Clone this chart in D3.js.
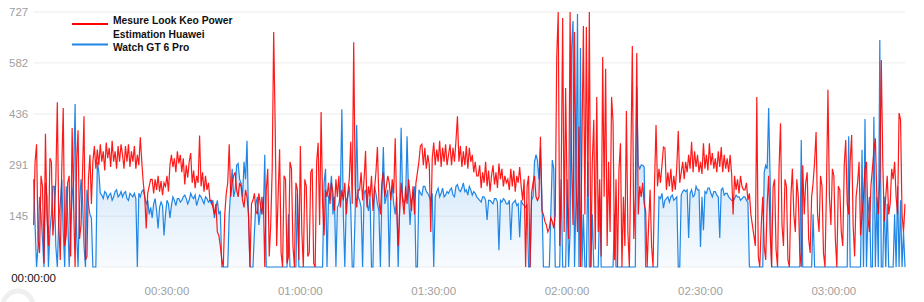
<!DOCTYPE html>
<html>
<head>
<meta charset="utf-8">
<script src="https://cdn.jsdelivr.net/npm/d3@7"></script>
<style>
    html, body { margin: 0; padding: 0; background: #fff; }
    svg { display: block; font-family: "Liberation Sans", Arial, sans-serif; }
</style>
</head>
<body>
<svg class="svg-canvas" width="924" height="302"></svg>
<script>
//Seconds between two samples
var sampleStep = 20;

//Measured power (Look Keo), one value per sample
var redPower = [
    120, 300, 350, 80, 40, 260, 230, 10, 380, 150, 60, 310, 300, 90, 150, 250, 470, 120, 20, 280,
    453, 60, 90, 240, 260, 30, 396, 180, 0, 300, 390, 80, 120, 270, 430, 20, 30, 250, 320, 180,
    300, 345, 280, 335, 290, 350, 300, 330, 275, 355, 310, 340, 285, 360, 300, 330, 280, 345, 300, 350,
    320, 280, 345, 300, 350, 285, 330, 300, 345, 280, 320, 290, 370, 300, 240, 200, 110, 210, 230, 250,
    250, 210, 250, 220, 260, 215, 245, 205, 240, 230, 260, 215, 290, 320, 285, 310, 270, 330, 295, 320,
    270, 310, 235, 290, 255, 300, 325, 240, 275, 225, 260, 240, 375, 230, 270, 215, 260, 220, 240, 190,
    190, 170, 150, 180, 100, 90, 60, 20, 0, 150, 210, 240, 350, 200, 240, 260, 270, 220, 200, 240,
    230, 190, 170, 220, 200, 150, 0, 180, 190, 210, 160, 150, 210, 180, 150, 200, 0, 220, 280, 30,
    120, 280, 670, 405, 60, 200, 336, 40, 0, 260, 250, 10, 30, 300, 280, 60, 0, 240, 220, 20,
    345, 100, 0, 250, 230, 30, 40, 270, 280, 10, 0, 300, 354, 120, 442, 180, 90, 220, 200, 240,
    180, 240, 210, 160, 250, 200, 260, 170, 220, 190, 240, 150, 210, 250, 357, 180, 641, 230, 170, 220,
    220, 270, 190, 250, 331, 170, 230, 200, 260, 160, 220, 270, 342, 190, 150, 240, 270, 200, 230, 260,
    240, 190, 250, 210, 367, 170, 60, 160, 240, 190, 150, 230, 180, 250, 210, 160, 230, 150, 240, 270,
    300, 345, 350, 290, 340, 280, 320, 290, 100, 310, 355, 290, 335, 300, 360, 285, 340, 300, 350, 290,
    320, 350, 290, 340, 300, 360, 430, 300, 345, 285, 330, 290, 345, 280, 340, 300, 320, 270, 300, 260,
    260, 290, 225, 270, 240, 300, 230, 275, 215, 260, 290, 235, 270, 225, 295, 250, 280, 230, 260, 240,
    250, 220, 280, 230, 275, 215, 260, 240, 285, 230, 190, 250, 0, 230, 260, 0, 210, 240, 260, 200,
    190, 200, 371, 160, 150, 130, 120, 100, 110, 140, 130, 110, 150, 599, 727, 60, 250, 710, 100, 510,
    200, 80, 727, 300, 120, 670, 250, 100, 400, 0, 350, 687, 150, 684, 200, 727, 0, 300, 420, 50,
    485, 100, 250, 30, 599, 200, 565, 60, 300, 100, 485, 414, 20, 250, 0, 280, 353, 0, 200, 60,
    445, 100, 0, 300, 630, 80, 200, 610, 150, 230, 200, 240, 180, 160, 0, 120, 220, 60, 0, 240,
    405, 230, 280, 240, 290, 342, 339, 220, 270, 230, 280, 215, 260, 220, 285, 388, 240, 270, 300, 250,
    300, 270, 320, 280, 357, 270, 330, 285, 320, 270, 300, 265, 353, 280, 320, 275, 353, 290, 325, 280,
    310, 270, 330, 285, 342, 270, 320, 280, 310, 270, 320, 265, 150, 260, 220, 250, 210, 260, 230, 220,
    220, 240, 190, 210, 150, 120, 90, 60, 485, 30, 0, 120, 200, 60, 20, 180, 260, 100, 0, 230,
    250, 50, 0, 280, 410, 120, 60, 250, 230, 20, 0, 200, 280, 150, 100, 250, 200, 40, 0, 290,
    150, 240, 270, 80, 40, 200, 240, 300, 385, 150, 100, 260, 230, 40, 0, 220, 505, 200, 120, 280,
    260, 80, 0, 230, 220, 100, 60, 290, 362, 180, 150, 300, 376, 120, 30, 200, 240, 300, 90, 150,
    200, 280, 300, 140, 100, 230, 280, 330, 367, 200, 150, 250, 590, 300, 130, 200, 260, 150, 180, 280,
    250, 300, 200, 150, 439, 420, 150, 100, 180
];

//Estimated power (Huawei Watch GT 6 Pro), one value per sample
var bluePower = [
    250, 120, 0, 60, 200, 150, 80, 0, 240, 200, 0, 100, 150, 230, 230, 60, 0, 140, 180, 250,
    100, 0, 230, 150, 0, 120, 200, 250, 465, 100, 0, 180, 250, 200, 60, 0, 220, 180, 150, 140,
    0, 0, 0, 300, 270, 210, 205, 195, 215, 210, 195, 205, 210, 190, 200, 215, 220, 200, 205, 215,
    200, 210, 215, 195, 190, 210, 205, 200, 210, 195, 0, 210, 200, 215, 220, 200, 180, 190, 150, 170,
    140, 180, 195, 160, 110, 170, 185, 175, 90, 150, 190, 180, 140, 175, 200, 190, 175, 195, 195, 185,
    190, 200, 205, 195, 180, 190, 210, 200, 195, 205, 175, 190, 205, 200, 190, 180, 200, 195, 185, 190,
    180, 190, 140, 170, 190, 150, 160, 0, 0, 0, 0, 0, 150, 220, 280, 200, 220, 290, 295, 250,
    240, 200, 300, 250, 360, 150, 0, 0, 0, 100, 180, 200, 120, 160, 200, 150, 320, 0, 0, 0,
    0, 0, 0, 0, 0, 0, 0, 0, 0, 0, 0, 0, 150, 0, 0, 0, 0, 0, 210, 0,
    0, 0, 0, 0, 0, 0, 0, 0, 0, 0, 0, 0, 0, 0, 0, 0, 240, 280, 0, 200,
    210, 260, 150, 200, 0, 170, 180, 210, 450, 150, 0, 190, 200, 230, 170, 0, 0, 160, 405, 200,
    190, 170, 0, 210, 220, 180, 160, 200, 0, 0, 230, 210, 180, 160, 0, 200, 342, 180, 200, 220,
    0, 200, 230, 180, 150, 200, 0, 170, 397, 200, 180, 190, 373, 210, 120, 190, 200, 230, 0, 0,
    220, 210, 205, 230, 230, 215, 210, 200, 190, 210, 0, 200, 215, 225, 200, 210, 225, 200, 205, 215,
    210, 220, 225, 205, 200, 230, 235, 220, 215, 225, 240, 215, 220, 205, 230, 220, 205, 215, 210, 200,
    195, 190, 185, 200, 200, 190, 134, 190, 190, 185, 180, 195, 195, 185, 48, 190, 185, 195, 190, 180,
    180, 190, 77, 180, 185, 190, 175, 180, 85, 190, 180, 175, 170, 180, 0, 0, 190, 200, 300, 320,
    305, 250, 339, 200, 0, 0, 0, 0, 0, 150, 305, 280, 0, 0, 0, 0, 250, 0, 0, 0,
    250, 0, 100, 619, 701, 0, 200, 721, 0, 624, 0, 150, 0, 0, 300, 0, 0, 150, 0, 0,
    0, 0, 200, 0, 0, 0, 0, 0, 0, 0, 0, 0, 150, 0, 0, 0, 0, 0, 0, 0,
    0, 0, 0, 0, 0, 0, 0, 513, 291, 280, 291, 290, 285, 0, 0, 0, 0, 0, 0, 0,
    0, 0, 200, 195, 210, 168, 190, 195, 200, 185, 200, 205, 190, 195, 200, 0, 0, 205, 215, 220,
    215, 220, 83, 210, 220, 200, 205, 230, 220, 220, 57, 200, 105, 215, 210, 225, 225, 210, 200, 215,
    215, 205, 200, 83, 220, 225, 205, 210, 210, 200, 195, 190, 190, 195, 205, 200, 200, 190, 195, 200,
    200, 190, 185, 0, 0, 0, 0, 0, 0, 0, 0, 0, 0, 270, 290, 280, 453, 250, 0, 0,
    0, 0, 0, 0, 0, 0, 0, 0, 0, 0, 0, 0, 0, 0, 0, 0, 0, 0, 362, 0,
    0, 0, 0, 0, 0, 0, 150, 0, 0, 0, 0, 0, 0, 0, 0, 0, 0, 0, 0, 0,
    0, 0, 0, 0, 0, 0, 0, 0, 0, 0, 373, 0, 0, 0, 0, 0, 0, 0, 0, 334,
    0, 422, 0, 150, 200, 0, 0, 428, 0, 200, 0, 647, 0, 0, 200, 0, 180, 0, 0, 0,
    0, 150, 0, 230, 0, 190, 0, 100, 0
];

//Axis ticks
var yTicks = [145, 291, 436, 582, 727];
var yMax = 727;
var xTicks = [1800, 3600, 5400, 7200, 9000, 10800];
var xStartLabel = "00:00:00";

//Legend entries
var legendNames = [["Mesure Look Keo Power"], ["Estimation Huawei", "Watch GT 6 Pro"]];
var redColor = "#ff0000";
var blueColor = "#1f86e6";

(function(){
    var svg = d3.select(".svg-canvas");

    //Plot area
    var plotL = 33.6, plotR = 905, plotT = 12, plotB = 267;

    var x = d3.scaleLinear()
        .domain([0, (redPower.length - 1) * sampleStep])
        .range([plotL, plotR]);

    var y = d3.scaleLinear()
        .domain([0, yMax])
        .range([plotB, plotT]);

    //Format seconds as hh:mm:ss
    var f2 = d3.format("02");
    function hms(s) {
        return f2(Math.floor(s / 3600)) + ":" + f2(Math.floor((s % 3600) / 60)) + ":" + f2(s % 60);
    }

    //Gradient for the blue area
    var grad = svg.append("defs").append("linearGradient")
        .attr("id", "blueFill")
        .attr("gradientUnits", "userSpaceOnUse")
        .attr("x1", 0).attr("x2", 0)
        .attr("y1", y(300)).attr("y2", y(0));
    grad.append("stop").attr("offset", 0).attr("stop-color", blueColor).attr("stop-opacity", 0.2);
    grad.append("stop").attr("offset", 1).attr("stop-color", blueColor).attr("stop-opacity", 0.03);

    //Gridlines
    svg.append("g")
        .selectAll("line")
        .data([0].concat(yTicks))
        .enter().append("line")
        .attr("x1", plotL).attr("x2", plotR)
        .attr("y1", function(d){ return y(d); })
        .attr("y2", function(d){ return y(d); })
        .style("stroke", function(d){ return d === 0 ? "#f0f0f0" : "#ececec"; })
        .style("stroke-width", 1);

    //Y labels
    svg.append("g")
        .selectAll("text")
        .data(yTicks)
        .enter().append("text")
        .attr("x", 9)
        .attr("y", function(d){ return y(d); })
        .attr("dy", "0.36em")
        .style("font-size", "11.5px")
        .style("fill", "#a0a0a0")
        .text(function(d){ return d; });

    //X labels
    svg.append("g")
        .selectAll("text")
        .data(xTicks)
        .enter().append("text")
        .attr("x", function(d){ return x(d); })
        .attr("y", 295)
        .attr("text-anchor", "middle")
        .style("font-size", "11.5px")
        .style("fill", "#a0a0a0")
        .text(hms);

    svg.append("text")
        .attr("x", x(0))
        .attr("y", 282)
        .attr("text-anchor", "middle")
        .style("font-size", "11.5px")
        .style("fill", "#111")
        .text(xStartLabel);

    //Build data rows
    var rows = redPower.map(function(v, i){
        return { t: i * sampleStep, red: v, blue: bluePower[i] || 0 };
    });

    //Blue area and lines
    svg.append("path")
        .datum(rows)
        .attr("d", d3.area()
            .x(function(d){ return x(d.t); })
            .y0(y(0))
            .y1(function(d){ return y(d.blue); }))
        .style("fill", "url(#blueFill)");

    svg.append("path")
        .datum(rows)
        .attr("d", d3.line()
            .x(function(d){ return x(d.t); })
            .y(function(d){ return y(d.blue); }))
        .style("fill", "none")
        .style("stroke", blueColor)
        .style("stroke-width", 1.2);

    svg.append("path")
        .datum(rows)
        .attr("d", d3.line()
            .x(function(d){ return x(d.t); })
            .y(function(d){ return y(d.red); }))
        .style("fill", "none")
        .style("stroke", redColor)
        .style("stroke-width", 1.2)
        .style("stroke-opacity", 0.9);

    //Legend
    var legend = svg.append("g");
    [redColor, blueColor].forEach(function(c, i){
        var ly = i === 0 ? 24 : 44.5;
        legend.append("line")
            .attr("x1", 72).attr("x2", 108)
            .attr("y1", ly).attr("y2", ly)
            .style("stroke", c)
            .style("stroke-width", 2);
        var lines = legendNames[i];
        var t = legend.append("text")
            .attr("x", 113)
            .attr("y", ly - (lines.length - 1) * 6.8)
            .attr("dy", "0.36em")
            .style("font-size", "10.3px")
            .style("font-weight", "bold")
            .style("fill", "#111");
        lines.forEach(function(s, k){
            t.append("tspan")
                .attr("x", 113)
                .attr("dy", k === 0 ? 0 : 13.6)
                .text(s);
        });
    });

    //Faint ring at the bottom left corner
    svg.append("circle")
        .attr("cx", 18).attr("cy", 306).attr("r", 15)
        .style("fill", "none")
        .style("stroke", "#efefef")
        .style("stroke-width", 5);
})();
</script>
</body>
</html>
